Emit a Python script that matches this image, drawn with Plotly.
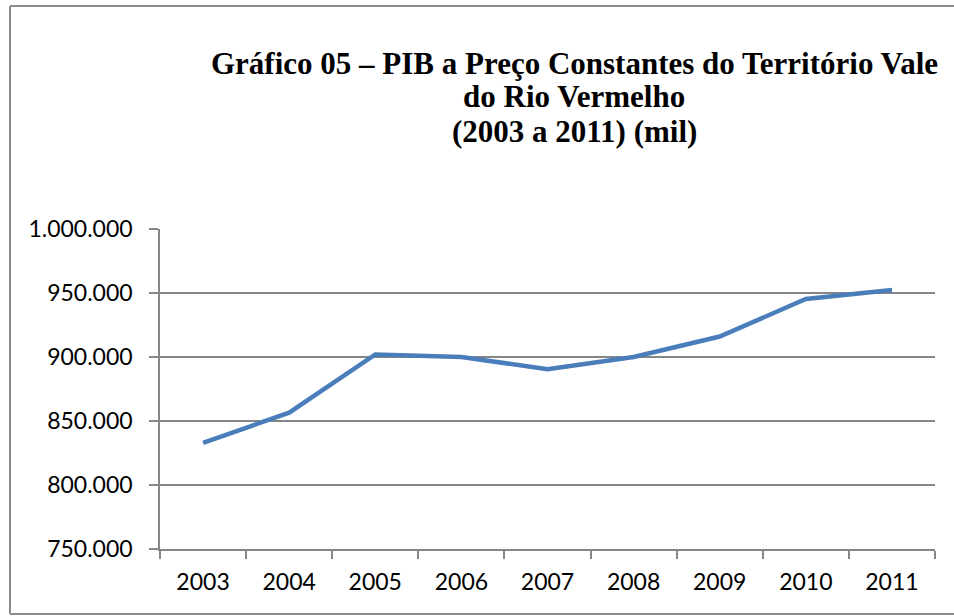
import plotly.graph_objects as go

# PIB a preço constante (mil)
anos = ["2003", "2004", "2005", "2006", "2007", "2008", "2009", "2010", "2011"]
pib = [833000, 856500, 902000, 900000, 890500, 900000, 916000, 945300, 952300]

titulo = [
    "Gráfico 05 – PIB a Preço Constantes do Território Vale",
    "do Rio Vermelho",
    "(2003 a 2011) (mil)",
]

y_range = [750000, 1000000]
y_step = 50000

GRID = "#868686"
LINE = "#4A7EBB"
FRAME = "#8C8C8C"

W, H = 954, 616
L, R, T, B = 160, 19, 229, 67
pw, ph = W - L - R, H - T - B


def px_x(x):
    return (x - L) / pw


def px_y(y):
    return (H - B - y) / ph


fig = go.Figure(go.Scatter(
    x=anos,
    y=pib,
    mode="lines",
    line=dict(color=LINE, width=4.5),
    hoverinfo="x+y",
))

# frame around the chart: left, top and bottom sides (right side is off-picture)
for x0, y0, x1, y1 in [(10, 6, 10, 614), (10, 6, 960, 6), (10, 614, 960, 614)]:
    fig.add_shape(
        type="line", xref="paper", yref="paper",
        x0=px_x(x0), y0=px_y(y0), x1=px_x(x1), y1=px_y(y1),
        line=dict(color=FRAME, width=2),
        layer="below",
    )

# title lines placed one by one (tighter leading than plotly's <br>)
for linha, yc in zip(titulo, [63, 97, 131]):
    fig.add_annotation(
        text=linha,
        xref="paper", yref="paper",
        x=px_x(574), y=px_y(yc),
        xanchor="center", yanchor="middle",
        showarrow=False,
        font=dict(family="Liberation Serif", size=31, color="black", weight="bold"),
    )

fig.update_layout(
    width=W,
    height=H,
    margin=dict(l=L, r=R, t=T, b=B),
    paper_bgcolor="white",
    plot_bgcolor="white",
    separators=",.",
    showlegend=False,
    xaxis=dict(
        type="category",
        range=[-0.5, len(anos) - 0.5],
        tickson="boundaries",
        ticks="outside",
        ticklen=8,
        tickcolor=GRID,
        tickwidth=1.5,
        showline=True,
        linecolor=GRID,
        linewidth=1.5,
        showgrid=False,
        ticklabelstandoff=12,
        tickfont=dict(family="Lato", size=23, color="black"),
    ),
    yaxis=dict(
        range=y_range,
        dtick=y_step,
        tickformat=",d",
        ticks="outside",
        ticklen=9,
        tickcolor=GRID,
        tickwidth=1.5,
        showline=True,
        linecolor=GRID,
        linewidth=1.5,
        showgrid=True,
        gridcolor=GRID,
        gridwidth=1.5,
        zeroline=False,
        ticklabelstandoff=12,
        tickfont=dict(family="Lato", size=23, color="black"),
    ),
)

# drop the default body margin and any scrollbars so the figure fills the window
page_js = (
    "document.body.style.margin = '0';"
    "document.body.style.overflow = 'hidden';"
    "document.documentElement.style.overflow = 'hidden';"
)
fig.write_html("out.html", config={"displayModeBar": False}, post_script=page_js)
